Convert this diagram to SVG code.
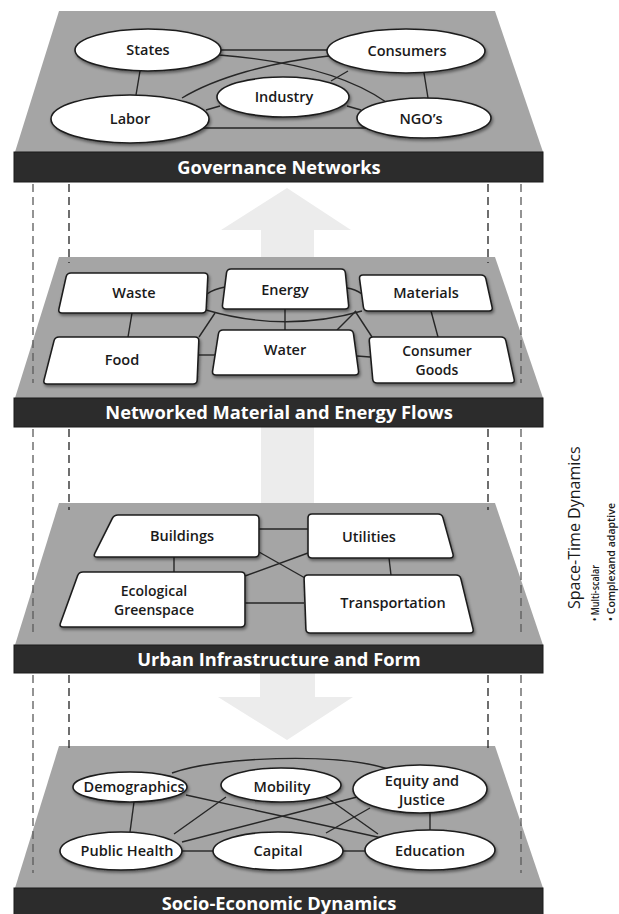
<svg xmlns="http://www.w3.org/2000/svg" width="619" height="914" viewBox="0 0 619 914">
<style>
.plat{fill:#a5a5a5;}
.band{fill:#2c2c2c;stroke:#1a1a1a;stroke-width:1;}
.arrow{fill:#ececec;}
.node{fill:#ffffff;stroke:#1e1e1e;stroke-width:1.6;filter:url(#sh);}
.conn{fill:none;stroke:#262626;stroke-width:1.4;}
.dashO{stroke:#5a5a5a;stroke-width:1.3;stroke-dasharray:8 5;fill:none;}
.dashI{stroke:#222;stroke-width:1.3;stroke-dasharray:8 5;fill:none;}
.lbl{font-family:"Open Sans","Liberation Sans",sans-serif;font-size:14.5px;font-weight:600;fill:#1a1a1a;text-anchor:middle;}
.lbl2{font-size:14px;}
.title{font-family:"Open Sans","Liberation Sans",sans-serif;font-size:18.3px;font-weight:700;fill:#ffffff;text-anchor:middle;}
.side{font-family:"Open Sans","Liberation Sans",sans-serif;fill:#1a1a1a;}
</style>
<defs>
<filter id="sh" x="-20%" y="-20%" width="140%" height="150%">
<feDropShadow dx="1.2" dy="2" stdDeviation="1.4" flood-color="#000" flood-opacity="0.45"/>
</filter>
</defs>
<rect width="619" height="914" fill="#ffffff"/>

<g id="arrows">
<polygon class="arrow" points="287,188 351,230 314,230 314,258 261,258 261,230 221,230"/>
<rect class="arrow" x="261" y="427" width="53" height="76"/>
<polygon class="arrow" points="260,672 315,672 315,697 353,697 287,740 218,697 260,697"/>
</g>

<g id="platforms">
<g id="layer-governance">
<polygon class="plat" points="59,11 495,11 543,152 15,152"/>
<rect class="band" x="14" y="152" width="529" height="30"/>
</g>
<g id="layer-flows">
<polygon class="plat" points="59,257 495,257 543,398 15,398"/>
<rect class="band" x="14" y="398" width="529" height="29"/>
</g>
<g id="layer-infrastructure">
<polygon class="plat" points="59,503 495,503 543,645 15,645"/>
<rect class="band" x="14" y="645" width="529" height="28"/>
</g>
<g id="layer-socio">
<polygon class="plat" points="59,746 495,746 543,888 15,888"/>
<rect class="band" x="14" y="888" width="529" height="30"/>
</g>
</g>

<g id="dashed">
<path class="dashO" d="M33,184 V383 M521,184 V383 M33,429 V633 M521,429 V633 M33,675 V873 M521,675 V873"/>
<path class="dashI" d="M69,184 V263 M488,184 V263 M69,429 V510 M488,429 V510 M69,675 V753 M488,675 V753"/>
</g>

<g id="connectors">
<path class="conn" d="M221,50 L327,50"/>
<path class="conn" d="M219,55 C270,59 340,70 386,102"/>
<path class="conn" d="M182,98 C215,78 270,62 329,56"/>
<path class="conn" d="M140,71 L136,95"/>
<path class="conn" d="M424,73 L428,98"/>
<path class="conn" d="M331,81 L348,71"/>
<path class="conn" d="M206,110 L220,106"/>
<path class="conn" d="M347,106 L361,110"/>
<path class="conn" d="M203,128 L366,128"/>
<path class="conn" d="M132,313 L128,337"/>
<path class="conn" d="M431,311 L438,337"/>
<path class="conn" d="M285,309 L285,330"/>
<path class="conn" d="M206,310 Q285,333 362,311"/>
<path class="conn" d="M207,294 Q214,289 225,287"/>
<path class="conn" d="M347,288 Q355,289 362,294"/>
<path class="conn" d="M199,337 L215,313"/>
<path class="conn" d="M337,330 L356,311"/>
<path class="conn" d="M372,337 L355,311"/>
<path class="conn" d="M197,355 L215,355"/>
<path class="conn" d="M357,356 L370,357"/>
<path class="conn" d="M259,529 L308,529"/>
<path class="conn" d="M174,557 L174,572"/>
<path class="conn" d="M389,558 L391,575"/>
<path class="conn" d="M245,603 L304,603"/>
<path class="conn" d="M259,552 L305,578"/>
<path class="conn" d="M308,553 L245,576"/>
<path class="conn" d="M172,773 C215,757 335,752 388,769"/>
<path class="conn" d="M134,802 L130,832"/>
<path class="conn" d="M430,813 L430,830"/>
<path class="conn" d="M182,851 L213,851"/>
<path class="conn" d="M343,851 L365,851"/>
<path class="conn" d="M186,795 L382,838"/>
<path class="conn" d="M226,797 L174,834"/>
<path class="conn" d="M326,797 L378,834"/>
<path class="conn" d="M357,797 L182,842"/>
<path class="conn" d="M370,808 L326,833"/>
</g>

<g id="nodes">
<g id="n-states"><ellipse class="node" cx="148" cy="50" rx="73" ry="21"/><text class="lbl" x="148" y="55">States</text></g>
<g id="n-consumers"><ellipse class="node" cx="406" cy="51" rx="79" ry="22"/><text class="lbl" x="407" y="56">Consumers</text></g>
<g id="n-industry"><ellipse class="node" cx="283" cy="97" rx="66" ry="20"/><text class="lbl" x="284" y="102">Industry</text></g>
<g id="n-labor"><ellipse class="node" cx="130" cy="119" rx="79" ry="24"/><text class="lbl" x="130" y="124">Labor</text></g>
<g id="n-ngos"><ellipse class="node" cx="424" cy="118" rx="67" ry="20"/><text class="lbl" x="421" y="124">NGO’s</text></g>

<g id="n-waste"><path class="node" d="M71,273 L204,273 Q208,273 207.8,277 L206.2,309 Q206,313 202,313 L62,313 Q58,313 58.9,309.1 L66.1,276.9 Q67,273 71,273 Z"/><text class="lbl" x="134" y="298">Waste</text></g>
<g id="n-energy"><path class="node" d="M231,269 L341,269 Q345,269 345.4,273 L348.6,305 Q349,309 345,309 L226,309 Q222,309 222.5,305 L226.5,273 Q227,269 231,269 Z"/><text class="lbl" x="285" y="295">Energy</text></g>
<g id="n-materials"><path class="node" d="M363,275 L481,275 Q485,275 485.9,278.9 L492.1,307.1 Q493,311 489,311 L368,311 Q364,311 363.4,307 L359.6,279 Q359,275 363,275 Z"/><text class="lbl" x="426" y="298">Materials</text></g>
<g id="n-food"><path class="node" d="M59,337 L195,337 Q199,337 198.8,341 L197.2,380 Q197,384 193,384 L47,384 Q43,384 44,380.1 L54,340.9 Q55,337 59,337 Z"/><text class="lbl" x="122" y="365">Food</text></g>
<g id="n-water"><path class="node" d="M223,330 L349,330 Q353,330 353.5,334 L358.5,371 Q359,375 355,375 L216,375 Q212,375 212.6,371 L218.4,334 Q219,330 223,330 Z"/><text class="lbl" x="285" y="355">Water</text></g>
<g id="n-consumer-goods"><path class="node" d="M373,337 L501,337 Q505,337 505.9,340.9 L514.1,379.1 Q515,383 511,383 L377,383 Q373,383 372.7,379 L369.3,341 Q369,337 373,337 Z"/><text class="lbl lbl2" x="437" y="356">Consumer<tspan x="437" dy="18.5">Goods</tspan></text></g>

<g id="n-buildings"><path class="node" d="M118,515 L255,515 Q259,515 259,519 L259,553 Q259,557 255,557 L97,557 Q93,557 94.8,553.4 L112.2,518.6 Q114,515 118,515 Z"/><text class="lbl" x="182" y="541">Buildings</text></g>
<g id="n-utilities"><path class="node" d="M312,514 L438,514 Q442,514 443,517.9 L453,554.1 Q454,558 450,558 L312,558 Q308,558 308,554 L308,518 Q308,514 312,514 Z"/><text class="lbl" x="369" y="542">Utilities</text></g>
<g id="n-ecological"><path class="node" d="M83,572 L241,572 Q245,572 245,576 L245,623 Q245,627 241,627 L63,627 Q59,627 60.4,623.2 L77.6,575.8 Q79,572 83,572 Z"/><text class="lbl lbl2" x="154" y="596">Ecological<tspan x="154" dy="18.5">Greenspace</tspan></text></g>
<g id="n-transportation"><path class="node" d="M308,575 L456,575 Q460,575 460.9,578.9 L473.1,629.1 Q474,633 470,633 L310,633 Q306,633 305.9,629 L304.1,579 Q304,575 308,575 Z"/><text class="lbl" x="393" y="608">Transportation</text></g>

<g id="n-demographics"><ellipse class="node" cx="130" cy="787" rx="57" ry="15"/><text class="lbl" x="134" y="792">Demographics</text></g>
<g id="n-mobility"><ellipse class="node" cx="281" cy="785" rx="60" ry="17"/><text class="lbl" x="282" y="792">Mobility</text></g>
<g id="n-equity"><ellipse class="node" cx="420" cy="789" rx="67" ry="24"/><text class="lbl" x="422" y="786">Equity and<tspan x="422" dy="19">Justice</tspan></text></g>
<g id="n-public-health"><ellipse class="node" cx="121" cy="851" rx="61" ry="19"/><text class="lbl" x="127" y="856">Public Health</text></g>
<g id="n-capital"><ellipse class="node" cx="278" cy="851" rx="65" ry="19"/><text class="lbl" x="278" y="856">Capital</text></g>
<g id="n-education"><ellipse class="node" cx="430" cy="850" rx="65" ry="20"/><text class="lbl" x="430" y="856">Education</text></g>
</g>

<g id="titles">
<text class="title" x="279" y="174">Governance Networks</text>
<text class="title" x="279" y="419">Networked Material and Energy Flows</text>
<text class="title" x="279" y="665.5">Urban Infrastructure and Form</text>
<text class="title" x="279" y="910">Socio-Economic Dynamics</text>
</g>

<g id="side-note">
<text class="side" transform="translate(580,609) rotate(-90)" font-size="16" font-weight="500">Space-Time Dynamics</text>
<text class="side" transform="translate(599,621) rotate(-90)" font-size="11.5" font-weight="600" textLength="56" lengthAdjust="spacingAndGlyphs">• Multi-scalar</text>
<text class="side" transform="translate(615,621) rotate(-90)" font-size="11.5" font-weight="600" textLength="118" lengthAdjust="spacingAndGlyphs">• Complexand adaptive</text>
</g>
</svg>
